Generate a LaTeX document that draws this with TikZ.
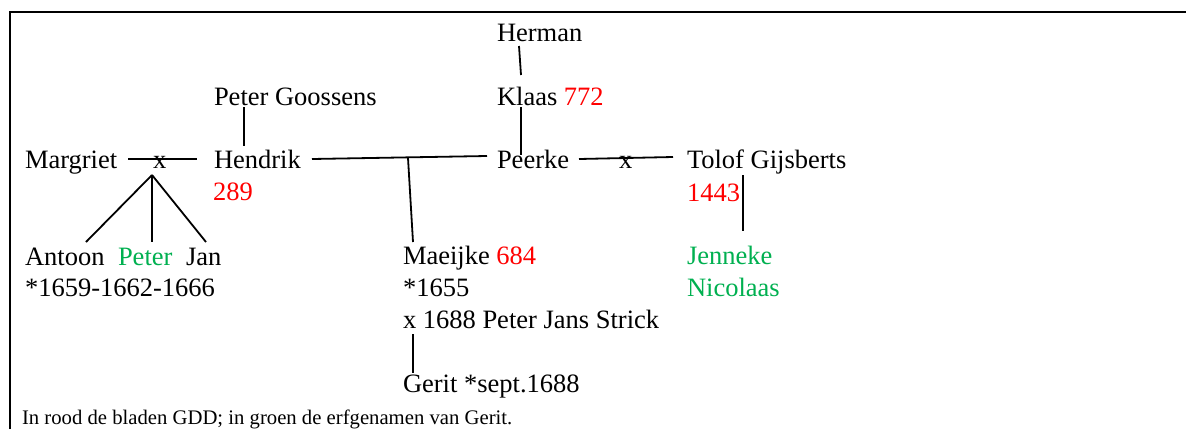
\documentclass[tikz,border=0pt]{standalone}
\usepackage{fontspec}
\setmainfont{Liberation Serif}
\definecolor{gddred}{RGB}{255,0,0}
\definecolor{heirgreen}{RGB}{0,176,80}
\begin{document}
\begin{tikzpicture}[x=1pt,y=-1pt,
  lbl/.style={anchor=base west, inner sep=0pt, outer sep=0pt, font=\fontsize{26.5}{31}\selectfont},
  foot/.style={anchor=base west, inner sep=0pt, outer sep=0pt, font=\fontsize{20.7}{24}\selectfont},
  link/.style={line width=1.8pt},
  frame/.style={line width=2pt}]
\useasboundingbox (0,0) rectangle (1186,429);
\draw[frame] (10,429) -- (10,12) -- (1186,12);

% people
\node[lbl] (herman) at (497,41) {Herman};
\node[lbl] (klaas) at (497,105) {Klaas \textcolor{gddred}{772}};
\node[lbl] (goossens) at (214,105) {Peter Goossens};
\node[lbl] (margriet) at (25,168) {Margriet};
\node[lbl] (xa) at (153,168) {x};
\node[lbl] (hendrik) at (214,168) {Hendrik};
\node[lbl,text=gddred] (n289) at (213,200) {289};
\node[lbl] (peerke) at (497,168) {Peerke};
\node[lbl] (xb) at (619,168) {x};
\node[lbl] (tolof) at (687,168) {Tolof Gijsberts};
\node[lbl,text=gddred] (n1443) at (687,201) {1443};
\node[lbl] (antoon) at (25,265) {Antoon};
\node[lbl,text=heirgreen] (peterc) at (118,265) {Peter};
\node[lbl] (jan) at (186,265) {Jan};
\node[lbl] (years) at (25,296) {*1659-1662-1666};
\node[lbl] (maeijke) at (403,264) {Maeijke \textcolor{gddred}{684}};
\node[lbl] (m1655) at (403,296) {*1655};
\node[lbl] (marr) at (403,328) {x 1688 Peter Jans Strick};
\node[lbl] (gerit) at (403,392) {Gerit *sept.1688};
\node[lbl,text=heirgreen] (jenneke) at (687,264) {Jenneke};
\node[lbl,text=heirgreen] (nicolaas) at (687,296) {Nicolaas};
\node[foot] (legend) at (22,424) {In rood de bladen GDD; in groen de erfgenamen van Gerit.};

% connector end points
\coordinate (margR) at (128,159);
\coordinate (hendL) at (197,159);
\coordinate (apex) at (152,175);
\coordinate (antoonT) at (86,242);
\coordinate (peterT) at (152,242);
\coordinate (janT) at (206,242);
\coordinate (hendR) at (312,159);
\coordinate (peerL) at (487,156);
\coordinate (drop) at (408,158);
\coordinate (maeT) at (413,242);
\coordinate (goosB) at (244,107);
\coordinate (hendT) at (244,146);
\coordinate (hermB) at (519,46);
\coordinate (klaasT) at (521,75);
\coordinate (klaasB) at (521,107);
\coordinate (peerT) at (521,155);
\coordinate (peerR) at (579,159);
\coordinate (tolofL) at (673,157);
\coordinate (tolofB) at (743,175);
\coordinate (jennT) at (743,231);
\coordinate (marrB) at (413,334);
\coordinate (geritT) at (413,373);

% connectors
\draw[link] (margR) -- (hendL);
\draw[link] (apex) -- (antoonT);
\draw[link] (apex) -- (peterT);
\draw[link] (apex) -- (janT);
\draw[link] (hendR) -- (peerL);
\draw[link] (drop) -- (maeT);
\draw[link] (goosB) -- (hendT);
\draw[link] (hermB) -- (klaasT);
\draw[link] (klaasB) -- (peerT);
\draw[link] (peerR) -- (tolofL);
\draw[link] (tolofB) -- (jennT);
\draw[link] (marrB) -- (geritT);
\end{tikzpicture}
\end{document}
